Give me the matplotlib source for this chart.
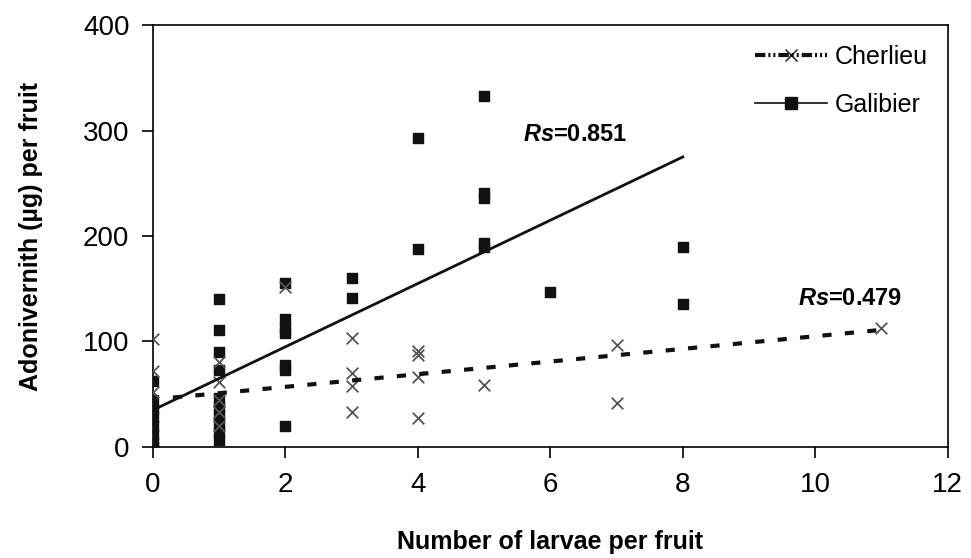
import numpy as np
import matplotlib.pyplot as plt
from matplotlib.lines import Line2D

plt.rcParams["font.family"] = ["Liberation Sans", "DejaVu Sans"]
plt.rcParams["mathtext.fontset"] = "custom"
plt.rcParams["mathtext.bfit"] = "Liberation Sans:bold:italic"
plt.rcParams["mathtext.rm"] = "Liberation Sans"

# Galibier (squares)
gal_x = [0, 0, 0, 0, 0, 0, 0, 0,
         1, 1, 1, 1, 1, 1, 1, 1, 1, 1,
         2, 2, 2, 2, 2, 2, 2,
         3, 3, 4, 4, 5, 5, 5, 5, 5, 6, 8, 8]
gal_y = [63, 45, 36, 28, 20, 12, 5, 0,
         140, 111, 90, 73, 46, 38, 30, 22, 14, 7,
         155, 121, 113, 108, 78, 73, 20,
         160, 141, 293, 188, 333, 241, 236, 193, 190, 147, 190, 136]

# Cherlieu (crosses)
che_x = [0, 0, 0, 1, 1, 1, 1, 1, 2, 3, 3, 3, 3, 4, 4, 4, 4, 5, 7, 7, 11]
che_y = [102, 72, 52, 81, 62, 45, 33, 20, 152, 103, 70, 58, 33,
         91, 87, 66, 27, 59, 97, 42, 113]

# fitted lines: intercept, slope, x range
gal_fit = (35, 30, 0, 8)
che_fit = (45, 6, 0.3, 11)

fig = plt.figure(figsize=(9.71, 5.58), dpi=100)
ax = fig.add_axes([0.1576, 0.199, 0.8184, 0.756])

ax.scatter(gal_x, gal_y, marker="s", s=55, color="#111111", zorder=3)
ax.scatter(che_x, che_y, marker="x", s=70, color="#555555", linewidths=1.3, zorder=3)

b, m, x0, x1 = gal_fit
xs = np.array([x0, x1])
ax.plot(xs, b + m * xs, color="#111111", lw=2, zorder=4)
b, m, x0, x1 = che_fit
xs = np.array([x0, x1])
ax.plot(xs, b + m * xs, color="#111111", lw=3, dashes=(2.2, 3.2), zorder=4)

ax.set_xlim(0, 12)
ax.set_ylim(0, 400)
ax.set_xticks(range(0, 13, 2))
ax.set_yticks(range(0, 401, 100))
ax.tick_params(direction="out", length=8, width=1.2, labelsize=20)
ax.tick_params(axis="x", pad=10)
ax.tick_params(axis="y", pad=9)
for s in ax.spines.values():
    s.set_linewidth(1.2)

ax.set_xlabel("Number of larvae per fruit", fontsize=18, fontweight="bold")
ax.set_ylabel("Adonivernith (\u00b5g) per fruit", fontsize=18, fontweight="bold")
ax.xaxis.set_label_coords(0.5, -0.198)
ax.yaxis.set_label_coords(-0.138, 0.5)

ax.text(5.58, 296, r"$\bfit{Rs}$" + "=0.851", fontsize=17, fontweight="bold",
        ha="left", va="center")
ax.text(9.74, 141, r"$\bfit{Rs}$" + "=0.479", fontsize=17, fontweight="bold",
        ha="left", va="center")

handles = [
    Line2D([], [], color="#111111", lw=3, dashes=(2.5, 0.7, 0.5, 0.7, 0.5, 0.7),
           marker="x", markersize=9, markeredgecolor="#111111"),
    Line2D([], [], color="#111111", lw=1.2, marker="s", markersize=9),
]
ax.legend(handles, ["Cherlieu", "Galibier"], loc="upper right", frameon=False,
          fontsize=18, handlelength=2.9, labelspacing=0.95, handletextpad=0.3,
          borderaxespad=0.3, borderpad=0.5)

fig.savefig("out.png", dpi=100, facecolor="white")
